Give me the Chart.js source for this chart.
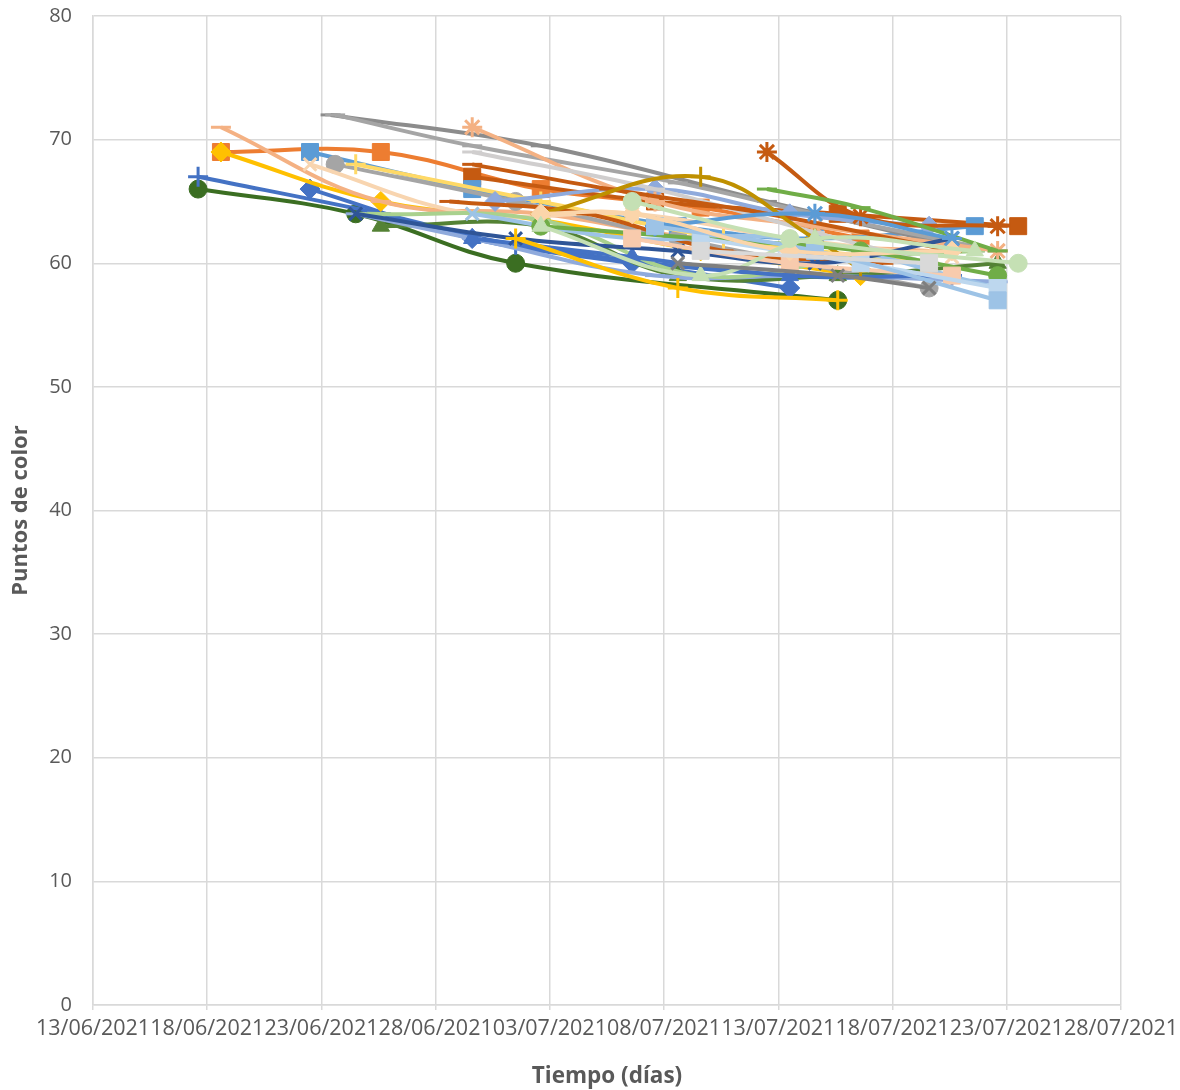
<!DOCTYPE html>
<html>
<head>
<meta charset="utf-8">
<script src="https://cdn.jsdelivr.net/npm/chart.js@4/dist/chart.umd.min.js"></script>
<style>
  body { margin: 0; background: #fff; }
</style>
</head>
<body>
<canvas id="myChart" width="1180" height="1090"></canvas>
<script>
// dias desde el 13/06/2021 y puntos de color de cada muestra
const m01 = [[4.6, 66], [11.5, 64], [18.5, 60], [32.6, 57]];
const m02 = [[4.6, 67], [12.6, 64], [18.5, 61.5], [30.5, 59], [37.6, 59]];
const m03 = [[9.5, 66], [16.6, 62], [23.6, 60], [30.5, 58]];
const m04 = [[5.6, 69], [12.6, 69], [19.6, 66], [26.6, 64.5], [33.6, 62]];
const m05 = [[16.6, 67], [24.6, 65], [32.6, 64], [40.5, 63]];
const m06 = [[5.6, 69], [12.6, 65], [19.6, 63.5], [26.6, 61], [33.6, 59]];
const m07 = [[5.6, 71], [12.6, 65], [19.6, 64], [26.6, 62], [36.6, 61]];
const m08 = [[9.5, 69], [16.6, 66], [25.6, 63], [31.6, 62], [38.6, 63]];
const m09 = [[10.6, 68], [18.5, 65], [25.6, 62], [36.6, 58]];
const m10 = [[10.4, 72], [19.6, 69.5], [29.5, 65], [38.6, 61]];
const m11 = [[10.6, 72], [16.6, 69.5], [25.6, 66.5], [31.6, 64], [39.6, 61]];
const m12 = [[11.5, 68], [19.6, 65], [27.6, 62], [36.6, 60]];
const m13 = [[9.5, 68], [16.6, 64], [23.6, 64], [30.5, 62], [37.6, 60.5]];
const m14 = [[12.6, 63], [19.6, 63], [25.6, 59], [32.6, 59], [39.6, 60]];
const m15 = [[11.5, 64], [16.6, 62], [24.6, 59], [31.6, 59], [39.6, 58.5]];
const m16 = [[17.6, 65], [24.6, 66], [30.5, 64], [36.6, 63]];
const m17 = [[12, 64], [19.6, 63.5], [26.6, 59], [33.6, 60.5], [38.6, 61]];
const m18 = [[16.6, 71], [24.6, 65], [31.6, 63], [39.6, 61]];
const m19 = [[16.6, 69], [24.6, 66], [31.6, 62.5], [36.6, 60]];
const m20 = [[16.6, 68], [22.6, 66], [29.5, 64], [37.6, 61]];
const m21 = [[15.6, 65], [21.6, 64], [27.6, 61], [34.6, 60]];
const m22 = [[16.6, 64], [23.6, 62], [30.5, 62], [39.6, 58]];
const m23 = [[16.6, 62], [23.6, 60.5], [30.5, 59], [37.6, 59]];
const m24 = [[11.5, 64], [18.5, 62], [25.6, 61], [31.6, 60], [37.6, 62]];
const m25 = [[19.6, 64], [26.6, 67], [31.6, 62], [33.6, 59.5]];
const m26 = [[29.5, 69], [33.6, 63.8], [39.6, 63]];
const m27 = [[29.5, 66], [33.6, 64.5], [39.6, 61]];
const m28 = [[19.6, 63], [26.6, 62], [33.6, 61], [39.6, 59]];
const m29 = [[24.6, 63], [31.6, 64], [37.6, 62]];
const m30 = [[23.6, 62], [30.5, 60], [37.6, 59]];
const m31 = [[26.6, 62], [33.6, 60], [39.6, 58]];
const m32 = [[24.6, 63], [31.6, 61], [39.6, 57]];
const m33 = [[19.6, 64], [23.6, 64], [30.5, 61], [37.6, 61]];
const m34 = [[23.6, 65], [30.5, 62], [40.5, 60]];
const m35 = [[19.6, 63], [26.6, 59], [31.6, 62], [38.6, 61]];
const m36 = [[25.6, 60], [32.6, 59], [36.6, 58]];
const m37 = [[18.5, 62], [25.6, 58], [32.6, 57]];
const m38 = [[26.6, 61], [36.6, 60]];

const muestras = [m01, m02, m03, m04, m05, m06, m07, m08, m09, m10, m11, m12, m13,
  m14, m15, m16, m17, m18, m19, m20, m21, m22, m23, m24, m25, m26, m27, m28, m29,
  m30, m31, m32, m33, m34, m35, m36, m37, m38];

// color y marcador de cada serie, en el mismo orden
const estilos = [
  ['#3B6E22', 'circle'], ['#4472C4', 'cross'], ['#4472C4', 'rectRot'],
  ['#ED7D31', 'rect'], ['#C55A11', 'rect'], ['#FFC000', 'rectRot'],
  ['#F4B183', 'line'], ['#5B9BD5', 'rect'], ['#A5A5A5', 'circle'],
  ['#8C8C8C', 'line'], ['#A5A5A5', 'line'], ['#FFD966', 'cross'],
  ['#F8D5B0', 'crossRot'], ['#548235', 'triangle'], ['#8FAADC', 'line'],
  ['#8FAADC', 'rectRot'], ['#A9D18E', 'line'], ['#F4B183', 'star'],
  ['#D0CECE', 'line'], ['#C55A11', 'line'], ['#C55A11', 'line'],
  ['#9DC3E6', 'crossRot'], ['#4472C4', 'triangle'], ['#2F5597', 'crossRot'],
  ['#BF9000', 'cross'], ['#C55A11', 'star'], ['#70AD47', 'line'],
  ['#70AD47', 'circle'], ['#5B9BD5', 'star'], ['#F8CBAD', 'rect'],
  ['#BDD7EE', 'rect'], ['#9DC3E6', 'rect'], ['#FBD5AA', 'rectRot'],
  ['#C5E0B4', 'circle'], ['#C5E0B4', 'triangle'], ['#7F7F7F', 'crossRot'],
  ['#FFC000', 'cross'], ['#D9D9D9', 'rect']
];

const radios = { circle: 9, rect: 12, rectRot: 10, triangle: 10, cross: 10, crossRot: 9, star: 10, line: 10 };
const soloTrazo = ['cross', 'crossRot', 'star', 'line'];

const datasets = muestras.map((m, i) => {
  const [color, marca] = estilos[i];
  return {
    label: 'Muestra ' + (i + 1),
    data: m.map(p => ({ x: p[0], y: p[1] })),
    // las series posteriores se pintan encima
    order: muestras.length - i,
    borderColor: color,
    backgroundColor: color,
    borderWidth: 4,
    tension: 0.4,
    pointStyle: marca,
    pointRadius: radios[marca],
    pointBorderWidth: soloTrazo.includes(marca) ? 3 : 1,
    pointBackgroundColor: color,
    pointBorderColor: color
  };
});

const fecha = v => {
  const d = new Date(2021, 5, 13 + Math.round(v));
  const dd = String(d.getDate()).padStart(2, '0');
  const mm = String(d.getMonth() + 1).padStart(2, '0');
  return dd + '/' + mm + '/' + d.getFullYear();
};

const gris = '#595959';
const rejilla = '#D9D9D9';

const config = {
  type: 'line',
  data: { datasets: datasets },
  options: {
    responsive: false,
    animation: false,
    layout: { padding: { top: 16, right: 59 } },
    plugins: { legend: { display: false }, tooltip: { enabled: false } },
    scales: {
      x: {
        type: 'linear',
        min: 0,
        max: 45,
        afterFit: s => { s.height = 85; s.paddingLeft = 0; s.paddingRight = 59; },
        ticks: {
          stepSize: 5,
          autoSkip: false,
          maxRotation: 0,
          minRotation: 0,
          padding: 6,
          color: gris,
          font: { family: 'Open Sans', size: 21.5 },
          callback: v => fecha(v)
        },
        grid: { color: rejilla, lineWidth: 1.5, tickLength: 5 },
        border: { color: rejilla, width: 1.5 },
        title: {
          display: true,
          text: 'Tiempo (días)',
          color: gris,
          font: { family: 'Open Sans', size: 22.5, weight: 'bold' },
          padding: { bottom: 0 }
        }
      },
      y: {
        min: 0,
        max: 80,
        afterFit: s => { s.width = 93; s.paddingTop = 16; s.paddingBottom = 0; },
        ticks: {
          stepSize: 10,
          padding: 21,
          color: gris,
          font: { family: 'Open Sans', size: 20 }
        },
        grid: { color: rejilla, lineWidth: 1.5, drawTicks: false },
        border: { color: rejilla, width: 1.5 },
        title: {
          display: true,
          text: 'Puntos de color',
          color: gris,
          font: { family: 'Open Sans', size: 22, weight: 'bold' },
          padding: { top: 8 }
        }
      }
    }
  }
};

const myChart = new Chart(document.getElementById('myChart'), config);
</script>
</body>
</html>
